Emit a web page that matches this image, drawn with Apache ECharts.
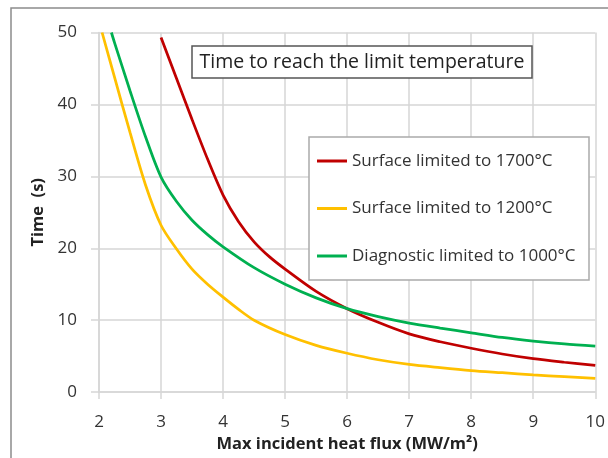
<!DOCTYPE html>
<html>
  <head>
    <meta charset="UTF-8" />
    <title>Time to reach the limit temperature</title>
    <script src="https://cdn.jsdelivr.net/npm/echarts@6/dist/echarts.min.js"></script>
    <style>
      html, body { margin: 0; padding: 0; background: #fff; overflow: hidden; }
      #main { width: 608px; height: 458px; }
    </style>
  </head>
  <body>
    <div id="main"></div>
    <script type="text/javascript">
      // 数据
      var seriesNames = [
        "Surface limited to 1700°C",
        "Surface limited to 1200°C",
        "Diagnostic limited to 1000°C"
      ];
      var seriesColors = ["#C00000", "#FFC000", "#00B050"];

      var redX = [3.0, 3.25, 3.5, 3.75, 4.0, 4.25, 4.5, 4.75, 5.0, 5.5, 6.0, 6.5, 7.0, 7.5, 8.0, 8.5, 9.0, 9.5, 10.0];
      var redY = [49.3, 43.6, 37.9, 32.4, 27.4, 23.7, 20.9, 18.8, 17.1, 14.0, 11.6, 9.7, 8.1, 7.0, 6.1, 5.3, 4.65, 4.15, 3.7];

      var yellowX = [2.05, 2.25, 2.5, 2.75, 3.0, 3.25, 3.5, 3.75, 4.0, 4.25, 4.5, 5.0, 5.5, 6.0, 6.5, 7.0, 7.5, 8.0, 8.5, 9.0, 9.5, 10.0];
      var yellowY = [50, 43.8, 36.1, 28.8, 23.2, 19.9, 17.1, 15.0, 13.2, 11.5, 10.0, 8.0, 6.5, 5.4, 4.5, 3.85, 3.4, 3.0, 2.7, 2.4, 2.15, 1.9];

      var greenX = [2.2, 2.25, 2.5, 2.75, 3.0, 3.25, 3.5, 3.75, 4.0, 4.5, 5.0, 5.5, 6.0, 6.5, 7.0, 7.5, 8.0, 8.5, 9.0, 9.5, 10.0];
      var greenY = [50, 48.6, 41.9, 35.5, 29.9, 26.5, 23.9, 21.9, 20.2, 17.3, 15.0, 13.1, 11.6, 10.5, 9.6, 8.9, 8.25, 7.6, 7.1, 6.7, 6.4];

      var xTicks = [2, 3, 4, 5, 6, 7, 8, 9, 10];
      var yTicks = [0, 10, 20, 30, 40, 50];

      function pairs(xs, ys) {
        var out = [];
        for (var i = 0; i < xs.length; i++) out.push([xs[i], ys[i]]);
        return out;
      }

      var font = "'Open Sans', sans-serif";
      var gridColor = "#d6d6d6";

      var myChart = echarts.init(document.getElementById("main"));

      function lineSeries(i, xs, ys) {
        return {
          name: seriesNames[i],
          type: "line",
          data: pairs(xs, ys),
          smooth: 0.3,
          showSymbol: false,
          color: seriesColors[i],
          lineStyle: { width: 2.75, color: seriesColors[i] }
        };
      }

      var option = {
        animation: false,
        textStyle: { fontFamily: font },
        grid: { left: 99, right: 11, top: 32.5, bottom: 60 },
        xAxis: {
          type: "value",
          min: xTicks[0],
          max: xTicks[xTicks.length - 1],
          interval: 1,
          name: "Max incident heat flux (MW/m²)",
          nameLocation: "middle",
          nameGap: 40,
          nameTextStyle: { fontSize: 16.5, fontWeight: "bold", color: "#222", fontFamily: font },
          axisLine: { show: true, lineStyle: { color: gridColor, width: 1.5 } },
          axisTick: { show: true, length: 7, lineStyle: { color: gridColor, width: 1.5 } },
          axisLabel: { margin: 22, fontSize: 17, color: "#333", fontFamily: font },
          splitLine: { show: true, lineStyle: { color: gridColor, width: 1.5 } }
        },
        yAxis: {
          type: "value",
          min: yTicks[0],
          max: yTicks[yTicks.length - 1],
          interval: 10,
          name: "Time  (s)",
          nameLocation: "middle",
          nameGap: 52,
          nameTextStyle: { fontSize: 16.5, fontWeight: "bold", color: "#222", fontFamily: font },
          axisLine: { show: true, lineStyle: { color: gridColor, width: 1.5 } },
          axisTick: { show: true, length: 8, lineStyle: { color: gridColor, width: 1.5 } },
          axisLabel: { margin: 22, fontSize: 17, color: "#333", fontFamily: font },
          splitLine: { show: true, lineStyle: { color: gridColor, width: 1.5 } }
        },
        legend: {
          orient: "vertical",
          left: 317,
          top: 151,
          padding: 0,
          itemGap: 27.5,
          itemWidth: 30,
          itemHeight: 3,
          icon: "rect",
          z: 10,
          textStyle: { fontSize: 17, color: "#333", lineHeight: 20, fontFamily: font },
          data: seriesNames
        },
        graphic: [
          // 外框：只看得到左边和上边
          {
            type: "polyline",
            z: 0,
            silent: true,
            shape: { points: [[11, 470], [11, 8], [620, 8]] },
            style: { fill: null, stroke: "#8c8c8c", lineWidth: 1.5 }
          },
          // 标题框
          {
            type: "rect",
            z: 5,
            silent: true,
            shape: { x: 192, y: 46, width: 340, height: 32 },
            style: { fill: "#fff", stroke: "#555", lineWidth: 1.5 }
          },
          {
            type: "text",
            z: 6,
            silent: true,
            x: 362,
            y: 62,
            style: {
              text: "Time to reach the limit temperature",
              fontSize: 19.5,
              fontFamily: font,
              fill: "#222",
              align: "center",
              verticalAlign: "middle"
            }
          },
          // 图例框
          {
            type: "rect",
            z: 5,
            silent: true,
            shape: { x: 309, y: 137, width: 280, height: 143 },
            style: { fill: "#fff", stroke: "#aaa", lineWidth: 1.5 }
          }
        ],
        series: [
          lineSeries(0, redX, redY),
          lineSeries(1, yellowX, yellowY),
          lineSeries(2, greenX, greenY)
        ]
      };

      myChart.setOption(option);
    </script>
  </body>
</html>
